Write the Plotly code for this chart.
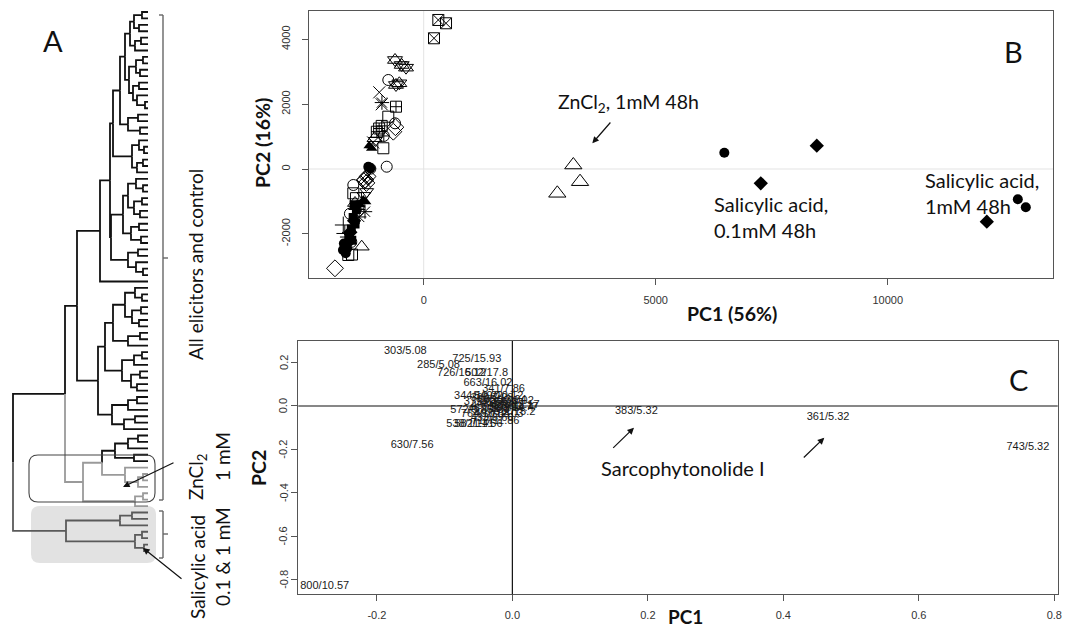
import plotly.graph_objects as go

W, H = 1068, 629

# ---------------- Panel A: dendrogram (merge heights; leaf codes k=black, g=ZnCl2 grey, s=salicylic grey)
T1a = [23, [18, [14, [6, 'k', 'k'], [9, 'k', 'k']], [13, [7, 'k', 'k'], 'k']],
       [19, [12, [5, 'k', 'k'], [8, 'k', 'k']], [15, [9, 'k', 'k'], [11, 'k', [3, 'k', 'k']]]]]
T1b = [20, [10, 'k', 'k'], [8, 'k', 'k']]
T2c = [16, [9, 'k', [4, 'k', 'k']], [11, [5, 'k', 'k'], 'k']]
X1 = [25, [20, [12, 'k', [5, 'k', 'k']], [14, [6, 'k', 'k'], [8, 'k', 'k']]], [17, [9, 'k', 'k'], [7, 'k', 'k']]]
X2 = [20, [10, 'k', 'k'], [12, 'k', [5, 'k', 'k']]]
U = [35, [23, [13, 'k', [6, 'k', 'k']], [16, [7, 'k', 'k'], [9, 'k', 'k']]], [20, [8, 'k', 'k'], 'k']]
V = [26, [14, [6, 'k', 'k'], 'k'], [17, [8, 'k', 'k'], [11, 'k', 'k']]]
LB = [36, [20, [11, 'k', 'k'], 'k'], [24, [13, 'k', 'k'], 'k']]
B115 = [33, [20, [10, 'k', 'k'], 'k'], [14, 'k', 'k']]
G125 = [23, 'g', [10, [5, 'g', 'g'], 'g']]
N135 = [13, [5, 'g', 'g'], 'g']
SA = [82, [28, [16, 's', 's'], 's'], [13, [6, 's', 's'], [4, 's', 's']]]
TREE = [135,
        [83,
         [71, [48, [38, [35, [28, T1a, T1b], T2c], [37, X1, X2]], 'k'], [50, [43, U, V], LB]],
         [65, [46, B115, G125, 'g'], N135, 'g']],
        SA]
EDGE_COLORS = {'k': '#111111', 'g': '#9a9a9a', 's': '#5a5a5a'}

# ---------------- Panel B: PCA scores (PC1, PC2)
sqx_x = [315, 481, 222];                 sqx_y = [4599, 4497, 4034]
star_x = [-618, -474, -381, -597, -525]; star_y = [3364, 3210, 3127, 2593, 2645]
circ_x = [-763, -618, -797, -1517, -1590, -1560]; circ_y = [2747, 1410, 71, -494, -1380, -2250]
xm_x = [-957, -905, -1090];              xm_y = [2367, 1997, 820]
sq_x = [-763, -870, -1517, -1625, -1545, -1460]; sq_y = [1614, 640, -750, -2654, -2640, -900]
dia_x = [-655, -610, -1912, -1260];      dia_y = [1151, 1290, -3065, -330]
sqc_x = [-597, -960, -1010, -905];       sqc_y = [1923, 1250, 1150, 1330]
tri_x = [-1336, -1480, -1060];           tri_y = [-2398, -1050, 950]
trid_x = [-1228, -1290, -1040];          trid_y = [-700, -820, 880]
ast_x = [-1265, -900, -1650, -1390];     ast_y = [-1317, 2050, -2100, -1480]
plus_x = [-1733, -1700, -1440];          plus_y = [-1728, -1990, -1250]
dx_x = [-1265, -1210, -1235];            dx_y = [-340, -230, -430]
cc_x = [-1150, -860, -1400];             cc_y = [10, 1020, -1130]
trif_x = [-1121, -1175, -1302, -1375, -1250]; trif_y = [639, 720, -957, -1100, -1010]
sqf_x = [-1500, -1450, -1520, -1480, -1560, -1600, -1550]
sqf_y = [-1100, -1250, -1500, -1700, -1850, -2050, -2200]
circf_x = [-1194, -1150, -1700, -1740, -1680, -1720, -1650, 6478, 12802, 12974]
circf_y = [71, 20, -2400, -2500, -2600, -2300, -2450, 503, -935, -1182]
diaf_x = [-1580, -1620, -1500, 8470, 7263, 12134]
diaf_y = [-1950, -2250, -1600, 719, -441, -1626]
zn_x = [3224, 3369, 2879];               zn_y = [123, -392, -750]

B_XTICKS = [0, 5000, 10000]
B_YTICKS = [-2000, 0, 2000, 4000]

# ---------------- Panel C: loadings (PC1, PC2) with m/z / RT labels
load_lab = ["303/5.08", "725/15.93", "285/5.08", "726/16.12", "502/17.8", "663/16.02",
            "341/7.86", "549/10.12", "344/10.22", "360/7.28", "379/6.52", "415/9.47",
            "521/13.17", "457/12.61", "598/14.4", "467/11.3", "572/9.85", "764/10.88",
            "492/12.03", "611/15.2", "433/8.66", "538/11.41", "582/11.56", "716/11.86",
            "685/13.94", "399/9.02", "526/12.77",
            "630/7.56", "800/10.57", "383/5.32", "361/5.32", "743/5.32"]
load_x = [-0.158, -0.0525, -0.109, -0.075, -0.038, -0.036,
          -0.013, -0.02, -0.05, -0.03, -0.04, -0.015,
          0.004, -0.025, 0.0, -0.035, -0.06, -0.04,
          -0.02, 0.003, -0.03, -0.062, -0.05, -0.025,
          -0.015, 0.0, 0.002,
          -0.148, -0.277, 0.183, 0.466, 0.761]
load_y = [0.25, 0.215, 0.189, 0.152, 0.152, 0.105,
          0.078, 0.045, 0.045, 0.035, 0.015, 0.012,
          0.005, 0.0, -0.01, -0.015, -0.018, -0.038,
          -0.04, -0.03, -0.055, -0.085, -0.085, -0.07,
          0.025, 0.02, -0.005,
          -0.18, -0.83, -0.022, -0.052, -0.188]
C_XTICKS = [-0.2, 0.0, 0.2, 0.4, 0.6, 0.8]
C_YTICKS = [0.2, 0.0, -0.2, -0.4, -0.6, -0.8]


def px(x):
    return x / W


def py(y):
    return 1 - y / H


# ---------------- dendrogram layout
segs = {k: ([], []) for k in EDGE_COLORS}
counter = [0]


def layout(node):
    if isinstance(node, str):
        i = counter[0]
        counter[0] += 1
        return 0.0, float(i), node
    h = node[0]
    ha, ya, ca = layout(node[1])
    hb, yb, cb = layout(node[2])
    ym = (ya + yb) / 2
    for hc, yc, cc in ((ha, ya, ca), (hb, yb, cb)):
        xs, ys = segs[cc]
        xs += [h, h, hc, None]
        ys += [ym, yc, yc, None]
    col = node[3] if len(node) > 3 else (ca if ca == cb else 'k')
    return h, ym, col


layout(TREE)
n_leaves = counter[0]
top_px, bot_px = 12.0, 551.0
sp = (bot_px - top_px) / (n_leaves - 1)

fig = go.Figure()
for c, (xs, ys) in segs.items():
    fig.add_trace(go.Scatter(x=xs, y=ys, mode='lines', xaxis='x', yaxis='y',
                             line=dict(color=EDGE_COLORS[c], width=1.8), hoverinfo='skip',
                             showlegend=False))

# ---------------- Panel B traces


def add_b(xs, ys, symbol, size, width=1.0):
    fig.add_trace(go.Scatter(
        x=xs, y=ys, mode='markers', xaxis='x2', yaxis='y2', showlegend=False,
        marker=dict(symbol=symbol, size=size, color='black',
                    line=dict(color='black', width=width))))


add_b(sqx_x, sqx_y, 'square-x-open', 11)
add_b(star_x, star_y, 'triangle-up-open', 13)
add_b(star_x, star_y, 'triangle-down-open', 13)
add_b(circ_x, circ_y, 'circle-open', 11)
add_b(xm_x, xm_y, 'x-thin-open', 12)
add_b(sq_x, sq_y, 'square-open', 11)
add_b(dia_x, dia_y, 'diamond-open', 13)
add_b(sqc_x, sqc_y, 'square-cross-open', 11)
add_b(tri_x, tri_y, 'triangle-up-open', 13)
add_b(trid_x, trid_y, 'triangle-down-open', 12)
add_b(ast_x, ast_y, 'asterisk-open', 12)
add_b(plus_x, plus_y, 'cross-thin-open', 12)
add_b(dx_x, dx_y, 'diamond-x-open', 13)
add_b(cc_x, cc_y, 'circle-cross-open', 11)
add_b(trif_x, trif_y, 'triangle-up', 10, 0)
add_b(sqf_x, sqf_y, 'square', 9, 0)
add_b(circf_x, circf_y, 'circle', 10, 0)
add_b(diaf_x, diaf_y, 'diamond', 11, 0)
add_b(zn_x, zn_y, 'triangle-up-open', 15)

# ---------------- Panel C text
fig.add_trace(go.Scatter(x=load_x, y=load_y, text=load_lab, mode='text', xaxis='x3', yaxis='y3',
                         textposition='middle center', showlegend=False,
                         textfont=dict(family='Liberation Sans, Arial', size=11, color='#1a1a1a')))

TICKFAM = 'Liberation Sans, Arial'
tickfont = dict(family=TICKFAM, size=11, color='#333')
box = dict(showline=True, mirror=True, linecolor='#555', linewidth=1.3, showgrid=False,
           zeroline=False, ticks='outside', ticklen=6, tickcolor='#555', tickfont=tickfont,
           automargin=False)

C_LEFT = 298.3
fig.update_layout(
    template='none',
    width=W, height=H, margin=dict(l=0, r=0, t=0, b=0),
    paper_bgcolor='white', plot_bgcolor='rgba(0,0,0,0)',
    xaxis=dict(domain=[0, 240 / W], range=[148, -92], visible=False, anchor='y'),
    yaxis=dict(domain=[0, 1], range=[(H - top_px) / sp, -top_px / sp], visible=False, anchor='x'),
    xaxis2=dict(domain=[308.7 / W, 1053 / W], range=[-2478, 13560], anchor='y2',
                tickvals=B_XTICKS, ticktext=[str(v) for v in B_XTICKS], ticklabelstandoff=6, **box),
    yaxis2=dict(domain=[py(278), py(11)], range=[-3364, 4876], anchor='x2',
                tickvals=B_YTICKS, ticktext=[str(v) for v in B_YTICKS], tickangle=-90,
                ticklabelstandoff=7, **box),
    xaxis3=dict(domain=[C_LEFT / W, 1057.7 / W], range=[-0.316, 0.805], anchor='y3',
                tickvals=C_XTICKS, ticktext=['%.1f' % v for v in C_XTICKS],
                ticklabelstandoff=4, **box),
    yaxis3=dict(domain=[py(594.3), py(341)], range=[-0.868, 0.2995], anchor='x3',
                tickvals=C_YTICKS, showticklabels=False, **box),
)

shapes = []
# zero reference lines
shapes.append(dict(type='line', xref='x2', yref='y2 domain', x0=0, x1=0, y0=0, y1=1,
                   line=dict(color='#e3e3e3', width=1), layer='below'))
shapes.append(dict(type='line', xref='x2 domain', yref='y2', x0=0, x1=1, y0=0, y1=0,
                   line=dict(color='#e3e3e3', width=1), layer='below'))
shapes.append(dict(type='line', xref='x3', yref='y3 domain', x0=0, x1=0, y0=0, y1=1,
                   line=dict(color='#111', width=1.2)))
shapes.append(dict(type='line', xref='x3 domain', yref='y3', x0=0, x1=1, y0=0, y1=0,
                   line=dict(color='#111', width=1.2)))


def rrect(x0, y0, x1, y1, r):
    pts = [('M', (x0 + r, y0)), ('L', (x1 - r, y0)), ('Q', (x1, y0), (x1, y0 + r)),
           ('L', (x1, y1 - r)), ('Q', (x1, y1), (x1 - r, y1)), ('L', (x0 + r, y1)),
           ('Q', (x0, y1), (x0, y1 - r)), ('L', (x0, y0 + r)), ('Q', (x0, y0), (x0 + r, y0))]
    s = ''
    for item in pts:
        s += item[0] + ' ' + ' '.join('%.5f,%.5f' % (px(a), py(b)) for a, b in item[1:]) + ' '
    return s + 'Z'


shapes.append(dict(type='path', xref='paper', yref='paper', path=rrect(31, 506, 156, 563, 9),
                   fillcolor='#e2e2e2', line=dict(width=0), layer='below'))
shapes.append(dict(type='path', xref='paper', yref='paper', path=rrect(29, 455, 155, 502, 9),
                   fillcolor='rgba(0,0,0,0)', line=dict(color='#444', width=1.1)))


def pline(x0, y0, x1, y1, col='#666', w=1.4):
    shapes.append(dict(type='line', xref='paper', yref='paper', x0=px(x0), y0=py(y0),
                       x1=px(x1), y1=py(y1), line=dict(color=col, width=w)))


# brackets
pline(163, 15, 163, 500)
pline(159, 15, 163, 15)
pline(159, 500, 163, 500)
pline(163, 258, 168, 258)
pline(163, 511, 163, 558)
pline(159, 511, 163, 511)
pline(159, 558, 163, 558)
pline(163, 534, 168, 534)
fig.update_layout(shapes=shapes)

ann = []
CAL = 'Lato, Open Sans, sans-serif'


def text(x, y, t, size, angle=0, bold=False, xanchor='center', align='center', family=CAL):
    ann.append(dict(xref='paper', yref='paper', x=px(x), y=py(y), text=('<b>%s</b>' % t) if bold else t,
                    showarrow=False, xanchor=xanchor, yanchor='middle', align=align,
                    textangle=angle, font=dict(family=family, size=size, color='#111')))


def arrow(hx, hy, tx, ty):
    ann.append(dict(xref='paper', yref='paper', x=px(hx), y=py(hy), ax=tx - hx, ay=ty - hy,
                    text='', showarrow=True, arrowhead=2, arrowsize=1.1, arrowwidth=1.2,
                    arrowcolor='#111'))


# rotated tick labels for panel C's y axis (R style, reading upward)
for v in C_YTICKS:
    ann.append(dict(xref='paper', yref='y3', x=px(C_LEFT - 15), y=v, text='%.1f' % v,
                    showarrow=False, xanchor='center', yanchor='middle', textangle=-90,
                    font=tickfont))

text(53, 40, 'A', 29)
text(1013, 52, 'B', 29)
text(1018, 379, 'C', 29)
text(195, 265, 'All elicitors and control', 19, angle=-90)
text(197, 477, 'ZnCl<sub>2</sub>', 19, angle=-90)
text(222, 457, '1 mM', 19, angle=-90)
text(197, 567, 'Salicylic acid', 19, angle=-90)
text(222, 557, '0.1 &amp; 1 mM', 19, angle=-90)
text(556, 103, 'ZnCl<sub>2</sub>, 1mM 48h', 19.5, xanchor='left')
text(712, 217, 'Salicylic acid,<br>0.1mM 48h', 20, xanchor='left', align='left')
text(923, 193, 'Salicylic acid,<br>1mM 48h', 20, xanchor='left', align='left')
text(683, 468, 'Sarcophytonolide I', 20)
text(732, 313, 'PC1 (56%)', 19.5, bold=True)
text(262, 143, 'PC2 (16%)', 19.5, angle=-90, bold=True)
text(685, 616, 'PC1', 19, bold=True)
text(258, 468, 'PC2', 19.5, angle=-90, bold=True)
arrow(123, 487, 175, 462)
arrow(143, 548, 183, 580)
arrow(592.3, 143.3, 611.7, 121)
arrow(634, 427.7, 611.7, 449.3)
arrow(824.3, 437.7, 802.3, 459)
fig.update_layout(annotations=ann)

fig.write_html("out.html", config={'displayModeBar': False},
               post_script="document.body.style.margin='0px';document.body.style.overflow='hidden';")
